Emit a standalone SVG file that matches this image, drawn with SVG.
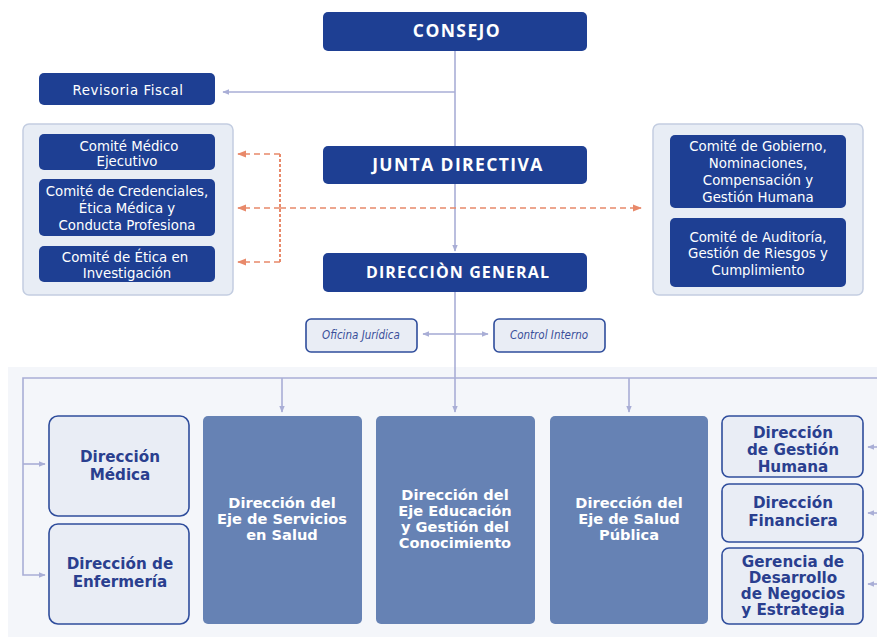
<svg xmlns="http://www.w3.org/2000/svg" width="877" height="637" viewBox="0 0 877 637">
  <defs>
    <marker id="arr" viewBox="0 0 10 10" refX="9" refY="5" markerWidth="7" markerHeight="7" markerUnits="userSpaceOnUse" orient="auto">
      <path d="M0,1 L10,5 L0,9 Z" fill="#a9aed6"/>
    </marker>
    <marker id="arrO" viewBox="0 0 10 10" refX="9" refY="5" markerWidth="9" markerHeight="9" markerUnits="userSpaceOnUse" orient="auto">
      <path d="M0,1 L10,5 L0,9 Z" fill="#e8896a"/>
    </marker>
    <style>
      .dark { fill: #1e3f93; }
      .mid { fill: #6682b4; }
      .light { fill: #e9edf5; stroke: #2f4d9c; stroke-width: 1.6; }
      .panel { fill: #e8edf5; stroke: #c3cde1; stroke-width: 1.5; }
      .t-head { font-family: "Open Sans", "DejaVu Sans", sans-serif; font-weight: bold; fill: #ffffff; text-anchor: middle; }
      .t-com { font-family: "DejaVu Sans", "Liberation Sans", sans-serif; font-stretch: condensed; fill: #ffffff; text-anchor: middle; font-size: 14.8px; }
      .t-mid { font-family: "DejaVu Sans", "Open Sans", sans-serif; font-weight: bold; fill: #ffffff; text-anchor: middle; font-size: 14.6px; }
      .t-light { font-family: "DejaVu Sans", "Open Sans", sans-serif; font-weight: bold; fill: #2a3f8f; text-anchor: middle; font-size: 15.2px; }
      .t-small { font-family: "DejaVu Sans", "Liberation Sans", sans-serif; font-stretch: condensed; font-style: italic; fill: #3a4f9a; text-anchor: middle; font-size: 11.5px; }
      .ln { fill: none; stroke: #a9aed6; stroke-width: 1.6; }
      .dash { fill: none; stroke: #e8896a; stroke-width: 1.6; stroke-dasharray: 6 4; }
      .dashv { fill: none; stroke: #e8896a; stroke-width: 2; stroke-dasharray: 3 2; }
    </style>
  </defs>

  <!-- background panels -->
  <rect x="8" y="367" width="880" height="272" fill="#f4f6fa"/>
  <rect class="panel" x="23" y="124" width="210" height="171" rx="6"/>
  <rect class="panel" x="653" y="124" width="210" height="171" rx="6"/>

  <!-- connectors -->
  <g id="connectors">
    <line class="ln" x1="455" y1="50" x2="455" y2="251" marker-end="url(#arr)"/>
    <line class="ln" x1="455" y1="92" x2="223" y2="92" marker-end="url(#arr)"/>
    <line class="ln" x1="455" y1="292" x2="455" y2="412" marker-end="url(#arr)"/>
    <line class="ln" x1="455" y1="334" x2="423" y2="334" marker-end="url(#arr)"/>
    <line class="ln" x1="455" y1="334" x2="488" y2="334" marker-end="url(#arr)"/>
    <polyline class="ln" points="877,378 23,378 23,575 45,575" marker-end="url(#arr)"/>
    <line class="ln" x1="23" y1="464" x2="45" y2="464" marker-end="url(#arr)"/>
    <line class="ln" x1="282" y1="378" x2="282" y2="412" marker-end="url(#arr)"/>
    <line class="ln" x1="629" y1="378" x2="629" y2="412" marker-end="url(#arr)"/>
    <line class="ln" x1="880" y1="447" x2="868" y2="447" marker-end="url(#arr)"/>
    <line class="ln" x1="880" y1="513" x2="868" y2="513" marker-end="url(#arr)"/>
    <line class="ln" x1="880" y1="584" x2="868" y2="584" marker-end="url(#arr)"/>
    <!-- dotted committee links -->
    <line class="dashv" x1="280" y1="154" x2="280" y2="262"/>
    <line class="dash" x1="280" y1="154" x2="238" y2="154" marker-end="url(#arrO)"/>
    <line class="dash" x1="280" y1="262" x2="238" y2="262" marker-end="url(#arrO)"/>
    <line class="dash" x1="280" y1="208" x2="238" y2="208" marker-end="url(#arrO)"/>
    <line class="dash" x1="280" y1="208" x2="641" y2="208" marker-end="url(#arrO)"/>
  </g>

  <g id="consejo">
    <rect class="dark" x="323" y="12" width="264" height="39" rx="5"/>
    <text class="t-head" x="457" y="37" font-size="17.5" letter-spacing="1.4">CONSEJO</text>
  </g>
  <g id="revisoria-fiscal">
    <rect class="dark" x="39" y="73" width="176" height="32" rx="5"/>
    <text class="t-com" x="128" y="95" font-size="16.5" letter-spacing="0.6">Revisoria Fiscal</text>
  </g>
  <g id="junta-directiva">
    <rect class="dark" x="323" y="146" width="264" height="38" rx="5"/>
    <text class="t-head" x="458" y="171" font-size="17.5" letter-spacing="1.4">JUNTA DIRECTIVA</text>
  </g>
  <g id="direccion-general">
    <rect class="dark" x="323" y="253" width="264" height="39" rx="5"/>
    <text class="t-head" x="458" y="278" font-size="16" letter-spacing="1.1">DIRECCIÒN GENERAL</text>
  </g>

  <g id="comite-medico">
    <rect class="dark" x="39" y="134" width="176" height="36" rx="5"/>
    <text class="t-com" x="129" y="151">Comité Médico</text>
    <text class="t-com" x="127" y="166">Ejecutivo</text>
  </g>
  <g id="comite-credenciales">
    <rect class="dark" x="39" y="179" width="176" height="57" rx="5"/>
    <text class="t-com" x="127" y="196">Comité de Credenciales,</text>
    <text class="t-com" x="127" y="213">Ética Médica y</text>
    <text class="t-com" x="127" y="230">Conducta Profesiona</text>
  </g>
  <g id="comite-etica">
    <rect class="dark" x="39" y="246" width="176" height="36" rx="5"/>
    <text class="t-com" x="125" y="262">Comité de Ética en</text>
    <text class="t-com" x="127" y="278">Investigación</text>
  </g>

  <g id="comite-gobierno">
    <rect class="dark" x="670" y="135" width="176" height="73" rx="5"/>
    <text class="t-com" x="758" y="151">Comité de Gobierno,</text>
    <text class="t-com" x="758" y="168">Nominaciones,</text>
    <text class="t-com" x="758" y="185">Compensación y</text>
    <text class="t-com" x="758" y="202">Gestión Humana</text>
  </g>
  <g id="comite-auditoria">
    <rect class="dark" x="670" y="218" width="176" height="69" rx="5"/>
    <text class="t-com" x="758" y="242">Comité de Auditoría,</text>
    <text class="t-com" x="758" y="258">Gestión de Riesgos y</text>
    <text class="t-com" x="758" y="275">Cumplimiento</text>
  </g>

  <g id="oficina-juridica">
    <rect class="light" x="306" y="319" width="111" height="33" rx="5"/>
    <text class="t-small" x="361" y="339">Oficina Jurídica</text>
  </g>
  <g id="control-interno">
    <rect class="light" x="494" y="319" width="111" height="33" rx="5"/>
    <text class="t-small" x="549" y="339">Control Interno</text>
  </g>

  <g id="direccion-medica">
    <rect class="light" x="49" y="416" width="140" height="100" rx="9"/>
    <text class="t-light" x="120" y="462">Dirección</text>
    <text class="t-light" x="120" y="480">Médica</text>
  </g>
  <g id="direccion-enfermeria">
    <rect class="light" x="49" y="524" width="140" height="100" rx="9"/>
    <text class="t-light" x="120" y="569">Dirección de</text>
    <text class="t-light" x="120" y="587">Enfermería</text>
  </g>
  <g id="eje-servicios">
    <rect class="mid" x="203" y="416" width="159" height="208" rx="5"/>
    <text class="t-mid" x="282" y="508">Dirección del</text>
    <text class="t-mid" x="282" y="524">Eje de Servicios</text>
    <text class="t-mid" x="282" y="540">en Salud</text>
  </g>
  <g id="eje-educacion">
    <rect class="mid" x="376" y="416" width="159" height="208" rx="5"/>
    <text class="t-mid" x="455" y="500">Dirección del</text>
    <text class="t-mid" x="455" y="516">Eje Educación</text>
    <text class="t-mid" x="455" y="532">y Gestión del</text>
    <text class="t-mid" x="455" y="548">Conocimiento</text>
  </g>
  <g id="eje-salud-publica">
    <rect class="mid" x="550" y="416" width="158" height="208" rx="5"/>
    <text class="t-mid" x="629" y="508">Dirección del</text>
    <text class="t-mid" x="629" y="524">Eje de Salud</text>
    <text class="t-mid" x="629" y="540">Pública</text>
  </g>
  <g id="gestion-humana">
    <rect class="light" x="722" y="416" width="141" height="61" rx="7"/>
    <text class="t-light" x="793" y="438">Dirección</text>
    <text class="t-light" x="793" y="455">de Gestión</text>
    <text class="t-light" x="793" y="472">Humana</text>
  </g>
  <g id="financiera">
    <rect class="light" x="722" y="484" width="141" height="58" rx="7"/>
    <text class="t-light" x="793" y="508">Dirección</text>
    <text class="t-light" x="793" y="526">Financiera</text>
  </g>
  <g id="gerencia-desarrollo">
    <rect class="light" x="722" y="548" width="141" height="76" rx="7"/>
    <text class="t-light" x="793" y="567">Gerencia de</text>
    <text class="t-light" x="793" y="583">Desarrollo</text>
    <text class="t-light" x="793" y="599">de Negocios</text>
    <text class="t-light" x="793" y="615">y Estrategia</text>
  </g>
</svg>
